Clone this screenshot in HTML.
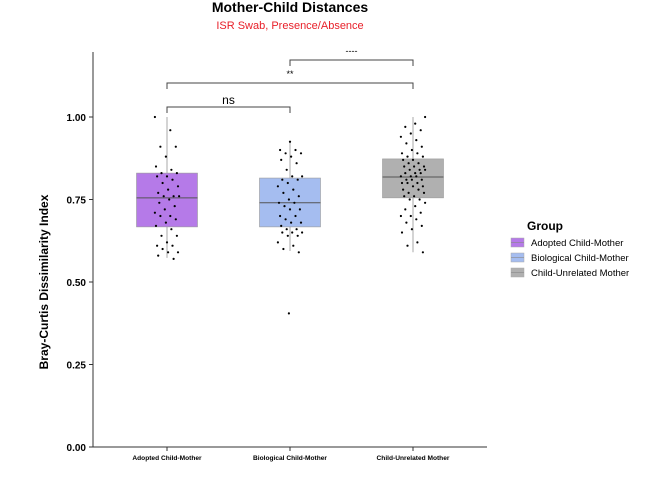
<!DOCTYPE html>
<html><head><meta charset="utf-8"><style>
body{margin:0;background:#fff;}
svg{display:block;font-family:"Liberation Sans",sans-serif;}
</style></head><body>
<svg id="chart" width="672" height="480">
<text x="290" y="12" text-anchor="middle" font-size="14" font-weight="bold">Mother-Child Distances</text>
<text x="290" y="29" text-anchor="middle" font-size="11" fill="#e8202a">ISR Swab, Presence/Absence</text>
<text transform="translate(48,282) rotate(-90)" text-anchor="middle" font-size="12" font-weight="bold">Bray-Curtis Dissimilarity Index</text>
<g id="legend">
<text x="527" y="230" font-size="12" font-weight="bold">Group</text>
</g>
</svg>
<script>
const categories=["Adopted Child-Mother","Biological Child-Mother","Child-Unrelated Mother"];
const colors=["#b57ae8","#a5bdf0","#b0b0b0"];
const q1=[0.667,0.667,0.755];
const med=[0.755,0.74,0.818];
const q3=[0.83,0.815,0.873];
const wlo=[0.573,0.594,0.59];
const whi=[1.0,0.925,1.0];
const yTicks=[0,0.25,0.5,0.75,1.0];
const yTickLabels=["0.00","0.25","0.50","0.75","1.00"];
const ptsA=[1.0,0.96,0.91,0.91,0.88,0.85,0.84,0.83,0.83,0.82,0.82,0.81,0.8,0.79,0.78,0.77,0.76,0.76,0.76,0.75,0.74,0.73,0.72,0.71,0.7,0.7,0.69,0.68,0.67,0.66,0.64,0.64,0.62,0.61,0.61,0.6,0.59,0.59,0.58,0.57];
const ptsB=[0.925,0.9,0.9,0.89,0.89,0.88,0.87,0.86,0.84,0.82,0.82,0.81,0.81,0.8,0.79,0.78,0.77,0.76,0.75,0.74,0.74,0.73,0.72,0.72,0.7,0.7,0.69,0.68,0.68,0.67,0.66,0.66,0.65,0.65,0.65,0.64,0.64,0.62,0.61,0.6,0.59,0.405];
const ptsC=[1.0,0.98,0.97,0.96,0.95,0.94,0.93,0.92,0.91,0.9,0.89,0.89,0.88,0.88,0.87,0.87,0.86,0.86,0.85,0.85,0.85,0.84,0.84,0.84,0.83,0.83,0.83,0.82,0.82,0.82,0.81,0.81,0.81,0.8,0.8,0.8,0.79,0.79,0.78,0.78,0.77,0.77,0.76,0.76,0.75,0.75,0.74,0.73,0.72,0.71,0.7,0.7,0.69,0.68,0.67,0.66,0.65,0.62,0.61,0.59];
const allPts=[ptsA,ptsB,ptsC];
const brackets=[[0,1,"ns",107],[0,2,"**",83],[1,2,"----",60]];

const svg=document.getElementById('chart');
const NS="http://www.w3.org/2000/svg";
const y=v=>447-v*330;
const xc=i=>167+i*123;
const BW=61;
function mk(t,a){const e=document.createElementNS(NS,t);for(const k in a)e.setAttribute(k,a[k]);svg.appendChild(e);return e;}
let ax=mk('line',{x1:93,y1:52,x2:93,y2:447,stroke:'#333','stroke-width':1});


let bx=mk('line',{x1:93,y1:447,x2:487,y2:447,stroke:'#333','stroke-width':1});


yTicks.forEach((v,i)=>{
  mk('line',{x1:89,x2:93,y1:y(v),y2:y(v),stroke:'#333'});
  const t=mk('text',{x:86,y:y(v)+4,'text-anchor':'end','font-size':10,'font-weight':'bold'});
  t.textContent=yTickLabels[i];
  
  
});
categories.forEach((c,i)=>{
  const x=xc(i);
  mk('line',{x1:x,x2:x,y1:y(whi[i]),y2:y(wlo[i]),stroke:'#aaa','stroke-width':1});
  const r=mk('rect',{x:x-BW/2,y:y(q3[i]),width:BW,height:y(q1[i])-y(q3[i]),fill:colors[i],stroke:'#999','stroke-width':0.6});
  
  
  mk('line',{x1:x-BW/2,x2:x+BW/2,y1:y(med[i]),y2:y(med[i]),stroke:'#555','stroke-width':1});
  allPts[i].forEach((v,j)=>{
    const off=(((j*37+i*11)%23)-11)*1.1;
    const p=mk('circle',{cx:x+off,cy:y(v),r:1.1,fill:'#000'});
    
    
  });
  mk('line',{x1:x,x2:x,y1:447,y2:451,stroke:'#333'});
  const t=mk('text',{x:x,y:460,'text-anchor':'middle','font-size':6.6,'font-weight':'bold'});
  t.textContent=c;
  
  
  const ly=238+i*15;
  const lr=mk('rect',{x:511,y:ly,width:13,height:9,fill:colors[i],stroke:'#aaa','stroke-width':0.5});
  
  
  mk('line',{x1:511,x2:524,y1:ly+4.5,y2:ly+4.5,stroke:'#888','stroke-width':0.6});
  const lt=mk('text',{x:531,y:ly+8,'font-size':9.5});
  lt.textContent=c;
  
  
});
brackets.forEach(b=>{
  const x1=xc(b[0]),x2=xc(b[1]),by=b[3];
  const p=mk('path',{d:`M${x1},${by+6}V${by}H${x2}V${by+6}`,fill:'none',stroke:'#444','stroke-width':1});
  
  
  const t=mk('text',{x:(x1+x2)/2,y:by-(b[2]=="ns"?3:6),'text-anchor':'middle','font-size':b[2]=="ns"?12:9});
  t.textContent=b[2];
  
  
});
</script>
</body></html>
